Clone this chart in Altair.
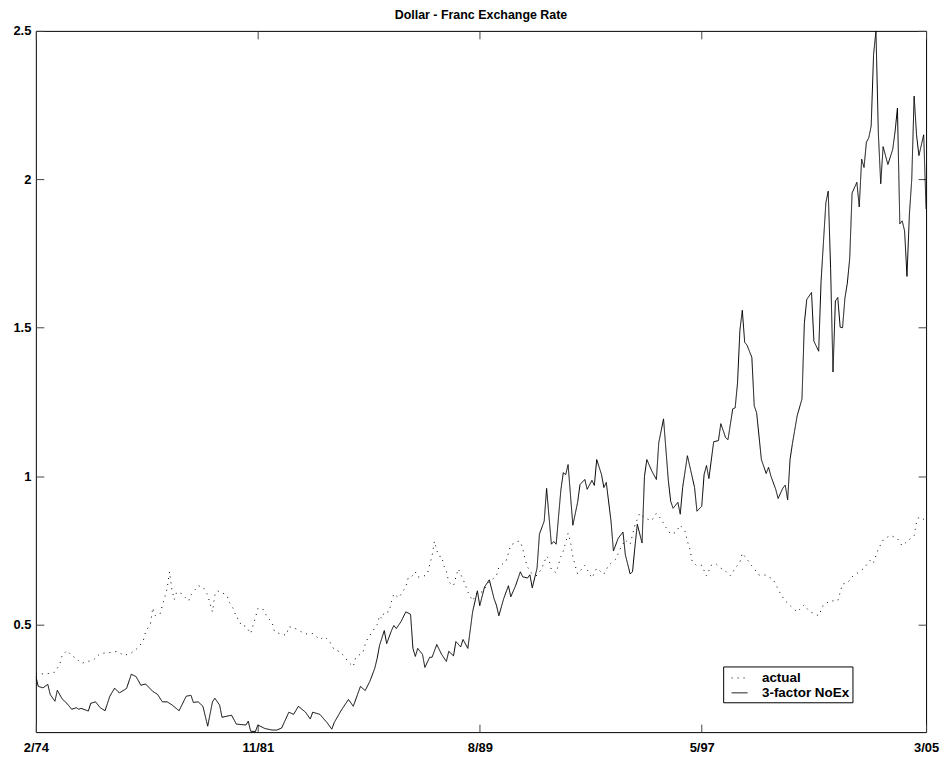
import altair as alt
import pandas as pd

# months since Feb 1974
model_month = [0,1,3,5,6,8,9,11,13,15,17,18,19,21,22,23,25,27,29,31,33,35,38,40,42,44,46,49,51,53,55,57,60,63,65,66,68,70,72,74,
75,77,78,82,84,88,89,90,92,93,96,99,101,103,106,108,110,113,115,116,119,122,124,125,128,131,133,136,138,140,142,143,144,146,147,149,150,
151,153,155,157,158,159,160,162,163,165,166,168,170,172,173,175,176,178,179,181,183,185,186,188,190,192,193,194,196,198,199,201,203,204,206,207,208,210,211,213,214,216,217,218,220,221,222,223,225,
227,228,230,231,233,234,235,237,238,239,241,242,244,246,247,249,250,251,252,254,255,256,258,260,261,263,265,266,267,269,270,271,273,276,277,279,280,281,282,284,286,287,289,290,292,293,294,295,296,297,298,300,
301,302,304,306,307,308,310,311,313,314,315,316,317,319,321,322,323,325,326,328,329,331,332,333,334,335,336,337,338,339,340,341,342,344,345,346,347,348,349,350,351,352,353,354,355,357,359,360,361,362,363,364,365,366,367,368,369,370,372,373]
model_value = [0.326,0.292,0.287,0.299,0.265,0.242,0.279,0.25,0.235,0.215,0.22,0.215,0.218,0.212,0.209,0.235,0.24,0.22,0.21,0.259,0.286,0.27,0.285,0.333,0.325,0.296,0.30,0.275,0.265,0.24,0.24,0.23,0.21,0.259,0.262,0.238,0.24,0.225,0.158,0.24,
0.252,0.229,0.188,0.195,0.165,0.162,0.175,0.141,0.14,0.162,0.15,0.145,0.145,0.152,0.205,0.198,0.225,0.205,0.182,0.205,0.198,0.17,0.148,0.17,0.212,0.248,0.225,0.292,0.278,0.31,0.353,0.386,0.43,0.48,0.436,0.48,0.497,
0.487,0.51,0.543,0.535,0.42,0.393,0.42,0.40,0.356,0.39,0.39,0.433,0.40,0.376,0.41,0.395,0.443,0.425,0.45,0.42,0.543,0.614,0.564,0.627,0.651,0.587,0.565,0.53,0.587,0.631,0.594,0.631,0.678,0.661,0.657,0.668,0.624,0.69,0.805,0.849,0.959,0.771,0.78,0.771,0.955,1.012,1.005,1.039,0.835,
0.912,0.972,0.989,0.956,0.986,0.969,1.056,1.006,0.962,0.979,0.848,0.748,0.791,0.812,0.735,0.671,0.678,0.761,0.838,0.775,0.999,1.056,1.019,0.989,1.113,1.193,0.986,0.915,0.892,0.912,0.872,0.962,1.069,0.962,0.882,0.899,1.006,1.036,0.992,1.116,1.12,1.177,1.13,1.123,1.227,1.23,1.314,1.492,1.559,1.451,1.441,1.40,
1.237,1.214,1.056,1.009,1.03,1.0,0.956,0.925,0.96,0.97,0.92,1.056,1.11,1.204,1.26,1.515,1.595,1.619,1.455,1.421,1.656,1.92,1.96,1.7,1.351,1.59,1.602,1.502,1.50,1.6,1.65,1.733,1.954,1.99,1.907,2.068,2.04,2.125,2.14,2.18,2.42,2.5,2.155,1.985,2.11,2.05,2.1,2.16,2.24,1.85,1.86,1.826,1.673,1.88,2.0,2.28,2.15,2.08,2.15,1.9]

actual_month = [0,5,8,10,11,13,15,17,19,21,24,27,30,34,37,40,43,45,46,48,49,50,52,53,55,56,57,58,59,61,64,65,68,70,72,73,74,75,76,80,
81,83,84,85,86,88,90,91,92,93,95,97,99,100,103,105,106,108,111,114,116,119,121,123,125,127,129,131,133,134,137,138,139,141,143,144,145,146,148,149,
150,152,155,156,157,159,160,163,164,165,166,167,168,169,170,171,172,173,175,176,177,178,180,181,183,185,187,190,193,194,197,199,202,203,204,205,206,208,210,212,
214,215,216,218,220,221,222,223,224,225,226,227,230,233,235,238,240,243,245,247,249,251,253,255,258,260,262,264,266,268,270,272,273,274,275,277,279,281,283,285,
287,289,291,293,295,296,298,300,303,306,309,312,314,317,319,322,324,328,330,333,336,338,340,342,345,347,350,351,353,355,358,361,363,365,368,369,370,372,373]
actual_value = [0.333,0.335,0.34,0.366,0.396,0.413,0.396,0.386,0.369,0.375,0.38,0.403,0.405,0.41,0.396,0.405,0.423,0.446,0.476,0.503,0.557,0.53,0.535,0.564,0.621,0.678,0.618,0.584,0.61,0.605,0.58,0.6,0.631,0.627,0.6,0.57,0.543,0.6,0.614,0.6,
0.577,0.55,0.523,0.52,0.497,0.495,0.47,0.497,0.523,0.554,0.554,0.525,0.507,0.477,0.467,0.465,0.493,0.49,0.477,0.467,0.47,0.45,0.46,0.444,0.416,0.41,0.396,0.373,0.359,0.39,0.406,0.433,0.453,0.477,0.5,0.53,0.52,0.543,0.543,0.577,
0.604,0.59,0.627,0.657,0.657,0.678,0.66,0.665,0.67,0.701,0.731,0.781,0.75,0.73,0.73,0.698,0.68,0.644,0.631,0.66,0.688,0.67,0.634,0.61,0.58,0.61,0.61,0.644,0.665,0.694,0.714,0.768,0.781,0.78,0.755,0.72,0.694,0.67,0.665,0.69,
0.731,0.72,0.684,0.675,0.73,0.748,0.777,0.808,0.78,0.73,0.698,0.671,0.7,0.657,0.69,0.67,0.7,0.721,0.758,0.785,0.77,0.835,0.875,0.86,0.85,0.875,0.855,0.828,0.805,0.81,0.835,0.815,0.781,0.755,0.714,0.698,0.7,0.664,0.7,0.705,
0.69,0.68,0.664,0.69,0.71,0.741,0.72,0.698,0.667,0.667,0.651,0.604,0.58,0.557,0.543,0.567,0.545,0.53,0.567,0.58,0.58,0.637,0.64,0.661,0.678,0.69,0.721,0.71,0.755,0.785,0.801,0.79,0.765,0.78,0.80,0.845,0.862,0.855,0.86]

series_names = ["actual", "3-factor NoEx"]
x_tick_months = [0, 93, 186, 279, 373]
x_tick_labels = ["2/74", "11/81", "8/89", "5/97", "3/05"]
y_ticks = [0.5, 1, 1.5, 2, 2.5]

assert len(model_month) == len(model_value)
assert len(actual_month) == len(actual_value)

df = pd.concat([
    pd.DataFrame({"month": actual_month, "value": actual_value, "series": series_names[0]}),
    pd.DataFrame({"month": model_month, "value": model_value, "series": series_names[1]}),
])

label_expr = "[" + ",".join("'%s'" % s for s in x_tick_labels) + "][indexof([" + ",".join(str(v) for v in x_tick_months) + "], datum.value)]"

xscale = alt.Scale(domain=[0, 373], nice=False, zero=False)
yscale = alt.Scale(domain=[0.138, 2.5], nice=False, zero=False)

FONT = "Liberation Sans"

lines = alt.Chart(df).mark_line(color="black", strokeWidth=1, clip=True).encode(
    x=alt.X("month:Q", scale=xscale,
            axis=alt.Axis(orient="bottom", values=x_tick_months, labelExpr=label_expr,
                          offset=-8, tickSize=8, domain=False, grid=False, labelPadding=9,
                          title=None, labelFlush=False)),
    y=alt.Y("value:Q", scale=yscale,
            axis=alt.Axis(orient="left", values=y_ticks, format="~g", offset=-8, tickSize=8,
                          domain=False, grid=False, labelPadding=5, title=None)),
    strokeDash=alt.StrokeDash(
        "series:N",
        scale=alt.Scale(domain=series_names, range=[[1, 5], [1, 0]]),
        legend=alt.Legend(title=None, orient="none", legendX=691, legendY=639,
                          strokeColor="black", fillColor="white", padding=3,
                          symbolType="stroke", symbolSize=256, symbolStrokeWidth=1,
                          symbolStrokeColor="black", symbolOffset=5, labelOffset=14,
                          labelFont=FONT, labelFontWeight="bold", labelFontSize=13.5,
                          labelColor="black", rowPadding=0),
    ),
)

frame = alt.Chart(df).mark_line(opacity=0).encode(
    x=alt.X("month:Q", scale=xscale,
            axis=alt.Axis(orient="top", values=x_tick_months, labels=False, offset=-8,
                          tickSize=8, domain=False, grid=False, title=None)),
    y=alt.Y("value:Q", scale=yscale,
            axis=alt.Axis(orient="right", values=y_ticks, labels=False, offset=-8,
                          tickSize=8, domain=False, grid=False, title=None)),
)

chart = alt.layer(lines, frame).resolve_axis(x="independent", y="independent").properties(
    width=895, height=705,
    autosize=alt.AutoSizeParams(type="none"),
    padding={"left": 28, "top": 21, "right": 14, "bottom": 21},
    title=alt.TitleParams("Dollar - Franc Exchange Rate", font=FONT, fontSize=12.5,
                          fontWeight="bold", color="black", offset=3, anchor="middle"),
).configure_view(stroke="black", strokeWidth=1).configure_axis(
    labelFont=FONT, labelFontWeight="bold", labelFontSize=13, labelColor="black",
    tickColor="#444", tickWidth=1,
)

chart.save("out.html", embed_options={"renderer": "svg", "actions": False})
